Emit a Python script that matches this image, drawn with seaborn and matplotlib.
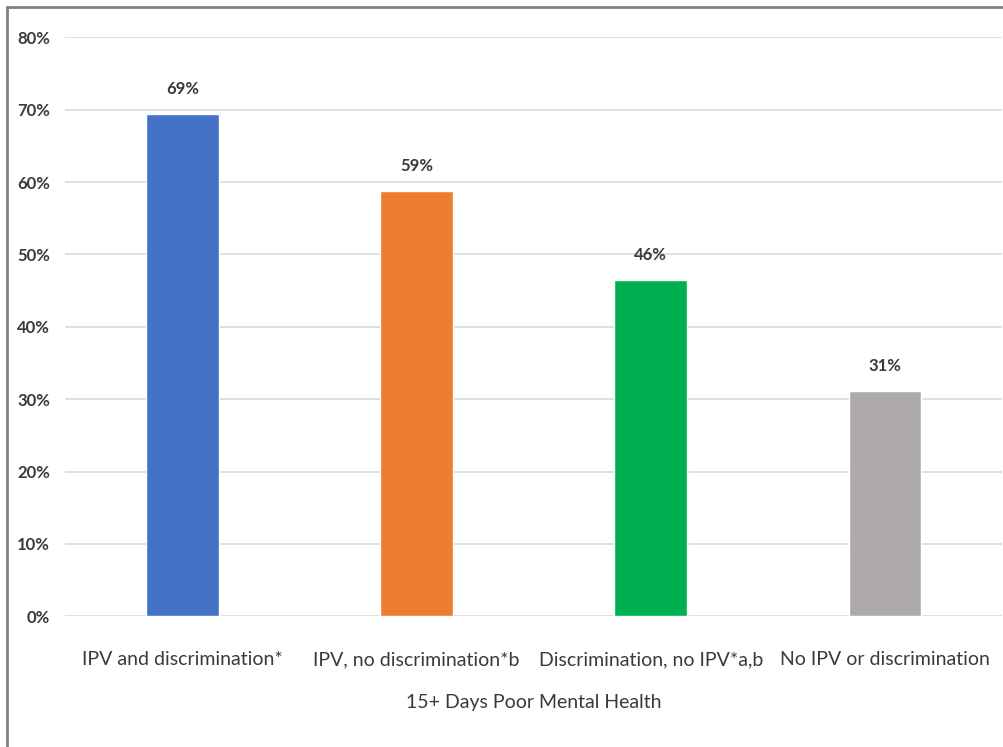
import matplotlib
matplotlib.use("Agg")
import matplotlib.pyplot as plt
from matplotlib.lines import Line2D
import seaborn as sns
import pandas as pd

categories = ["IPV and discrimination*", "IPV, no discrimination*b",
              "Discrimination, no IPV*a,b", "No IPV or discrimination"]
values = [69.4, 58.7, 46.4, 31.1]
colors = ["#4472C4", "#ED7D31", "#00B050", "#AEAAAA"]
y_ticks = [0, 10, 20, 30, 40, 50, 60, 70, 80]
x_title = "15+ Days Poor Mental Health"

sns.set_theme(style="white")
plt.rcParams["font.family"] = ["Lato", "DejaVu Sans"]

df = pd.DataFrame({"category": categories, "value": values})

fig = plt.figure(figsize=(10.04, 7.47), dpi=100)
ax = fig.add_axes([0.065, 0.175, 0.933, 0.775])

sns.barplot(data=df, x="category", y="value", hue="category",
            palette=colors, width=0.31, legend=False, ax=ax, saturation=1)

text_color = "#3A3A3A"
ax.set_ylim(0, 80)
ax.set_yticks(y_ticks)
ax.set_yticklabels([f"{t}%" for t in y_ticks], fontsize=12, fontweight="bold",
                   color=text_color)
ax.yaxis.grid(True, color="#D9D9D9", linewidth=1.2)
ax.set_axisbelow(True)
ax.tick_params(axis="y", length=0, pad=11)
ax.tick_params(axis="x", length=0, pad=25, labelsize=14, labelcolor=text_color)
ax.set_ylabel("")
ax.set_xlabel(x_title, fontsize=14, color=text_color, labelpad=19)
for s in ax.spines.values():
    s.set_visible(False)

for i, v in enumerate(values):
    ax.text(i, v + 2.4, f"{v:.0f}%", ha="center", va="bottom", fontsize=12,
            fontweight="bold", color=text_color)

# slide frame edges
fig.add_artist(Line2D([0.007, 0.007], [0, 0.991], transform=fig.transFigure,
                      color="#808080", linewidth=2))
fig.add_artist(Line2D([0.007, 1.0], [0.991, 0.991], transform=fig.transFigure,
                      color="#808080", linewidth=2))

fig.savefig("out.png", dpi=100)
